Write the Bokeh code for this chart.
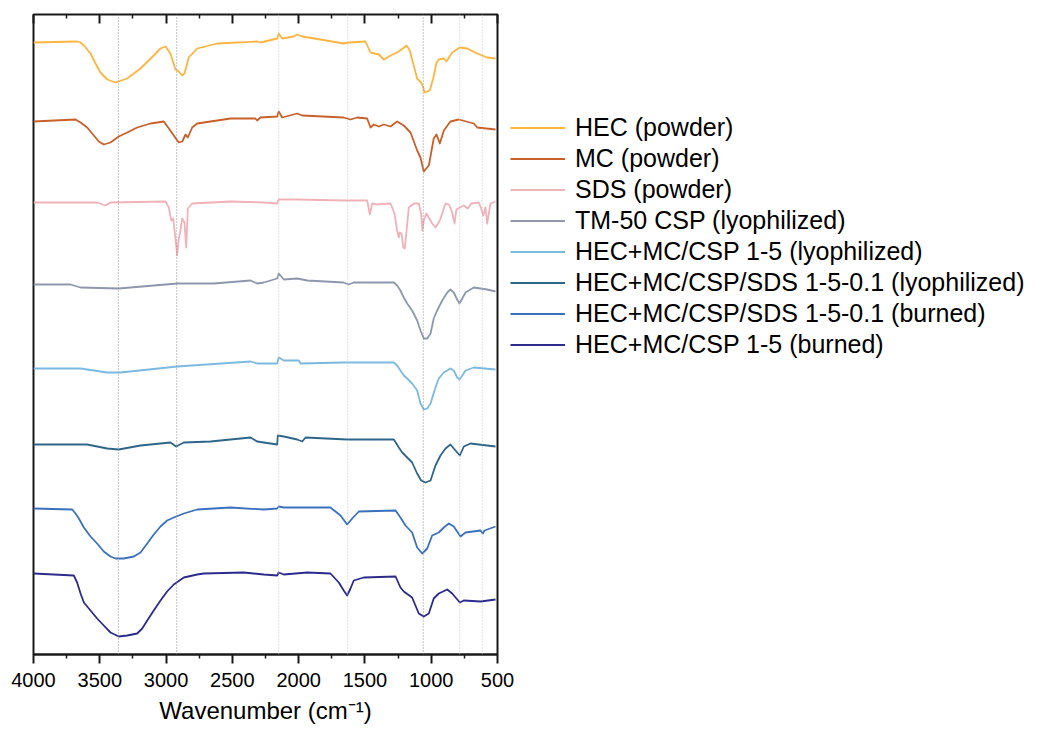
from bokeh.plotting import figure
from bokeh.models import (Range1d, FixedTicker, LinearAxis, Legend, LegendItem, Span,
                          CustomLabelingPolicy)
from bokeh.embed import file_html
from bokeh.resources import INLINE

# ---------------- data (wavenumber in cm^-1, offset transmittance in a.u.) ----------------
hec_wn = [4000, 3670, 3645, 3620, 3570, 3532, 3495, 3444, 3381, 3293, 3193, 3093, 3042, 3004, 2967,
          2929, 2904, 2878, 2861, 2829, 2765, 2614, 2313, 2288, 2162, 2150, 2124, 2037, 2011, 1973,
          1835, 1662, 1622, 1496, 1458, 1395, 1358, 1307, 1257, 1194, 1186, 1162, 1136, 1106, 1076,
          1060, 1051, 1011, 985, 960, 943, 905, 885, 842, 784, 729, 653, 578, 515]
hec_t = [612, 613, 612, 609, 601, 591, 582, 575, 572, 576, 586, 599, 606, 608, 601,
         585, 583, 579, 581, 597, 606, 611, 613, 612, 616, 621, 616, 618, 620, 618,
         615, 611, 612, 613, 602, 600, 595, 599, 602, 608, 609, 604, 591, 576, 572,
         567, 562, 564, 576, 592, 595, 596, 593, 602, 607, 606, 601, 597, 596]

mc_wn = [4000, 3683, 3645, 3595, 3545, 3507, 3470, 3419, 3357, 3293, 3218, 3117, 3017, 2979, 2942,
         2904, 2878, 2853, 2836, 2803, 2765, 2514, 2326, 2313, 2288, 2162, 2150, 2124, 2011, 1973,
         1662, 1609, 1558, 1483, 1458, 1433, 1395, 1358, 1307, 1257, 1207, 1156, 1106, 1081, 1056,
         1018, 981, 960, 935, 905, 855, 792, 679, 653, 515]
mc_t = [533, 535, 532, 527, 519, 513, 510, 512, 518, 522, 527, 531, 533, 526, 519,
        512, 513, 520, 517, 527, 531, 536, 536, 534, 537, 538, 543, 537, 541, 539,
        537, 535, 537, 536, 527, 530, 528, 530, 528, 533, 529, 522, 504, 497, 483,
        489, 516, 520, 511, 524, 533, 535, 531, 527, 525]

sds_wn = [4000, 3520, 3457, 3419, 3004, 2979, 2961, 2946, 2936, 2916, 2906, 2896, 2878, 2861, 2848,
          2836, 2803, 2514, 2263, 2162, 2150, 2011, 1662, 1483, 1463, 1445, 1407, 1307, 1277, 1257,
          1245, 1237, 1224, 1211, 1199, 1186, 1169, 1131, 1094, 1076, 1066, 1056, 1036, 1018, 993,
          968, 935, 892, 867, 842, 824, 810, 784, 754, 724, 698, 641, 623, 608, 591,
          578, 553, 515]
sds_t = [452, 452, 449, 452, 453, 447, 434, 436, 424, 399, 414, 421, 436, 432, 407,
         446, 451, 453, 452, 451, 455, 455, 454, 454, 440, 451, 450, 451, 441, 424,
         417, 422, 421, 407, 406, 424, 447, 451, 451, 441, 424, 434, 441, 437, 431,
         427, 434, 451, 450, 442, 431, 445, 447, 449, 446, 451, 452, 446, 439, 447,
         431, 451, 453]

tm50_wn = [4000, 3721, 3645, 3357, 2916, 2640, 2363, 2313, 2263, 2162, 2150, 2112, 2011, 1935, 1662,
           1622, 1584, 1282, 1257, 1232, 1207, 1181, 1144, 1106, 1081, 1056, 1030, 1005, 981, 955,
           917, 879, 855, 830, 804, 787, 766, 741, 679, 578, 515]
tm50_t = [370, 370, 367, 366, 371, 371, 374, 371, 372, 376, 381, 375, 376, 374, 372,
          370, 372, 372, 369, 364, 357, 351, 344, 334, 324, 316, 316, 321, 336, 344,
          354, 362, 365, 362, 355, 351, 356, 362, 367, 365, 363]

lyo_wn = [4000, 3645, 3444, 3344, 2916, 2363, 2313, 2162, 2150, 2112, 1999, 1986, 1662, 1282, 1257,
          1232, 1207, 1181, 1144, 1106, 1081, 1056, 1030, 1005, 968, 943, 905, 855, 830, 804,
          787, 766, 741, 679, 515]
lyo_t = [286, 286, 282, 282, 288, 293, 291, 291, 297, 294, 294, 291, 292, 292, 289,
         284, 279, 276, 271, 264, 251, 245, 246, 251, 267, 276, 282, 286, 284, 277,
         275, 279, 284, 287, 285]

sdslyo_wn = [4000, 3595, 3444, 3357, 3193, 2967, 2924, 2866, 2665, 2363, 2313, 2162, 2157, 2112, 2011,
             1973, 1948, 1634, 1282, 1244, 1219, 1181, 1144, 1106, 1076, 1043, 1005, 968, 930, 892,
             855, 817, 784, 754, 704, 578, 515]
sdslyo_t = [210, 210, 206, 205, 209, 212, 208, 212, 213, 217, 213, 210, 219, 218, 215,
            213, 217, 215, 215, 207, 202, 197, 192, 181, 174, 172, 174, 189, 199, 206,
            210, 204, 199, 208, 211, 209, 208]

sdsburn_wn = [4000, 3708, 3683, 3658, 3620, 3570, 3520, 3470, 3419, 3381, 3319, 3243, 3193, 3142, 3093,
              3042, 2992, 2942, 2866, 2765, 2514, 2263, 2162, 2150, 2112, 1760, 1684, 1634, 1596, 1546,
              1269, 1232, 1194, 1144, 1106, 1068, 1030, 993, 943, 905, 867, 830, 779, 741, 628,
              611, 598, 515]
sdsburn_t = [146, 145, 141, 136, 127, 118, 111, 103, 98, 96, 96, 98, 102, 111, 120,
             128, 134, 137, 141, 145, 147, 145, 146, 148, 147, 147, 139, 130, 136, 143,
             144, 137, 129, 122, 107, 101, 106, 119, 122, 127, 131, 128, 118, 122, 124,
             121, 124, 128]

burn_wn = [4000, 3696, 3671, 3645, 3620, 3570, 3520, 3470, 3419, 3357, 3293, 3218, 3180, 3142, 3093,
           3042, 2992, 2942, 2866, 2765, 2715, 2414, 2263, 2162, 2150, 2112, 1935, 1760, 1697, 1660,
           1634, 1609, 1584, 1509, 1269, 1232, 1207, 1144, 1094, 1056, 1018, 981, 943, 879, 842,
           784, 754, 628, 515]
burn_t = [81, 79, 72, 61, 52, 44, 36, 29, 22, 18, 19, 21, 26, 34, 44,
          54, 63, 70, 77, 80, 81, 82, 80, 79, 82, 80, 82, 81, 72, 64,
          59, 66, 74, 77, 78, 67, 63, 57, 41, 38, 41, 56, 61, 65, 61,
          52, 54, 53, 55]

series_names = ["HEC (powder)", "MC (powder)", "SDS (powder)", "TM-50 CSP (lyophilized)",
                "HEC+MC/CSP 1-5 (lyophilized)", "HEC+MC/CSP/SDS 1-5-0.1 (lyophilized)",
                "HEC+MC/CSP/SDS 1-5-0.1 (burned)", "HEC+MC/CSP 1-5 (burned)"]
series_colors = ["#FDB53F", "#C9602A", "#F0B1B8", "#8D97AD", "#7BB9E0", "#2E6689", "#3A70BE", "#2C2B8C"]

x_ticks = [4000, 3500, 3000, 2500, 2000, 1500, 1000, 500]
x_minor = [3750, 3250, 2750, 2250, 1750, 1250, 750]
marker_dark = [3360, 2920, 1060]
marker_light = [2150, 1630, 785, 615]

# ---------------- figure ----------------
FONT = "Liberation Sans"
p = figure(frame_width=464, frame_height=640, output_backend="svg", toolbar_location=None,
           x_range=Range1d(4000, 500), y_range=Range1d(0, 640), y_axis_location=None,
           min_border_left=33, min_border_top=14, min_border_bottom=72, min_border_right=530)
p.background_fill_color = "white"
p.border_fill_color = "white"
p.xgrid.visible = False
p.ygrid.visible = False
p.outline_line_color = "#1a1a1a"
p.outline_line_width = 2

ticker = FixedTicker(ticks=x_ticks, minor_ticks=x_minor)
ax = p.xaxis[0]
ax.ticker = ticker
ax.axis_line_width = 2
ax.axis_line_color = "#1a1a1a"
ax.major_tick_out = 9
ax.major_tick_in = 0
ax.minor_tick_out = 4
ax.minor_tick_in = 0
ax.major_tick_line_width = 2
ax.minor_tick_line_width = 1.5
ax.major_tick_line_color = "#1a1a1a"
ax.minor_tick_line_color = "#1a1a1a"
ax.major_label_text_font = FONT
ax.major_label_text_font_size = "20px"
ax.major_label_text_color = "black"
ax.major_label_standoff = 9
ax.axis_label = "Wavenumber (cm⁻¹)"
ax.axis_label_text_font = FONT
ax.axis_label_text_font_size = "24px"
ax.axis_label_text_font_style = "normal"
ax.axis_label_text_color = "black"
ax.axis_label_standoff = 7

no_labels = CustomLabelingPolicy(code="return new Set()")
top = LinearAxis(ticker=ticker, major_tick_in=9, major_tick_out=0, minor_tick_in=4, minor_tick_out=0,
                 major_label_policy=no_labels, major_label_text_font_size="1px",
                 major_label_standoff=0, axis_line_alpha=0,
                 major_tick_line_width=2, minor_tick_line_width=1.5,
                 major_tick_line_color="#1a1a1a", minor_tick_line_color="#1a1a1a")
p.add_layout(top, "above")

for wn in marker_dark:
    p.add_layout(Span(location=wn, dimension="height", line_color="#8a8a8a", line_width=1,
                      line_dash="1 2"))
for wn in marker_light:
    p.add_layout(Span(location=wn, dimension="height", line_color="#c2c2c2", line_width=1,
                      line_dash="1 2"))

data = [(hec_wn, hec_t), (mc_wn, mc_t), (sds_wn, sds_t), (tm50_wn, tm50_t), (lyo_wn, lyo_t),
        (sdslyo_wn, sdslyo_t), (sdsburn_wn, sdsburn_t), (burn_wn, burn_t)]
items = []
for (xs, ys), name, col in zip(data, series_names, series_colors):
    r = p.line(xs, ys, line_color=col, line_width=1.8, line_join="round")
    items.append(LegendItem(label=name, renderers=[r]))

legend = Legend(items=items, location=(13, 295), padding=0, margin=0, spacing=2,
                glyph_width=55, glyph_height=29, label_height=29, label_standoff=10,
                label_text_font=FONT, label_text_font_size="25px", label_text_color="black",
                border_line_alpha=0, background_fill_alpha=0)
p.add_layout(legend, "right")

open("out.html", "w").write(file_html(p, INLINE))
